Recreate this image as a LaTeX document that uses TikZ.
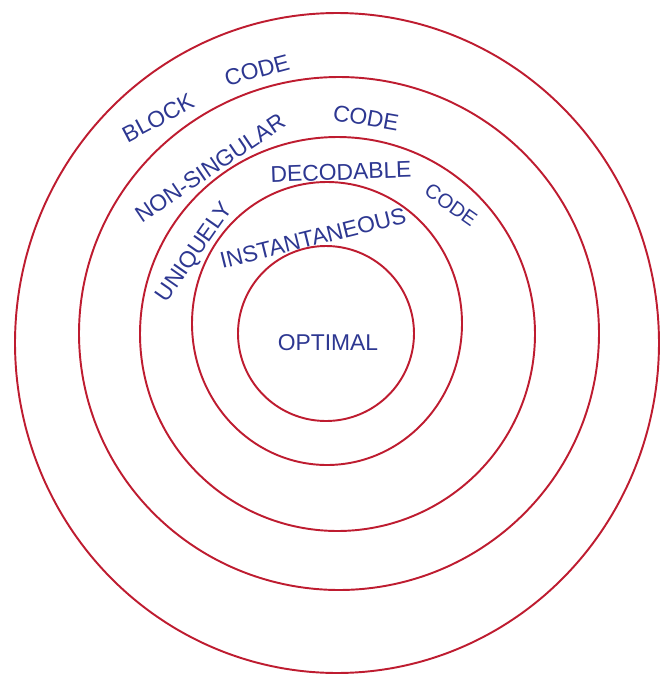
\documentclass[tikz,border=0pt]{standalone}
\usepackage{fontspec}
\setmainfont{Liberation Sans}
\definecolor{penred}{RGB}{190,28,48}
\definecolor{penblue}{RGB}{45,55,145}
\tikzset{
  ring/.style={draw=penred, line width=1.1pt},
  lbl/.style={text=penblue, font=\fontsize{13}{15}\selectfont, inner sep=0pt}
}
% ring: centre x, centre y, x radius, y radius (in picture pixels)
\newcommand{\handring}[4]{%
  \draw[ring] plot[domain=0:357.5, samples=144, smooth cycle, variable=\t]
    ({#1+#3*cos(\t)}, {#2+#4*sin(\t)});}
\begin{document}
\begin{tikzpicture}[x=0.02cm, y=-0.02cm]
\useasboundingbox (0,0) rectangle (665,680);
% rings, from the outside in
\handring{337}{343}{322}{330}   % block code
\handring{339}{333.5}{260}{256.5} % non-singular code
\handring{337.5}{334}{197.5}{197} % uniquely decodable code
\handring{327}{323.5}{135}{141.5} % instantaneous
\handring{326}{333.5}{88}{87.5}   % optimal
% labels
\node[lbl, rotate=28] (blk) at (158,118) {BLOCK};
\node[lbl, rotate=15] (c1) at (257,70) {CODE};
\node[lbl, rotate=34] (ns) at (210,168) {NON-SINGULAR};
\node[lbl, rotate=-10] (c2) at (366,118) {CODE};
\node[lbl, rotate=55] (uq) at (195,253) {UNIQUELY};
\node[lbl, rotate=2] (dec) at (341,172) {DECODABLE};
\node[lbl, rotate=-35, font=\fontsize{11.5}{13}\selectfont] (c3) at (451,205) {CODE};
\node[lbl, rotate=14] (inst) at (313,238) {INSTANTANEOUS};
\node[lbl] (opt) at (328,343) {OPTIMAL};
\end{tikzpicture}
\end{document}
